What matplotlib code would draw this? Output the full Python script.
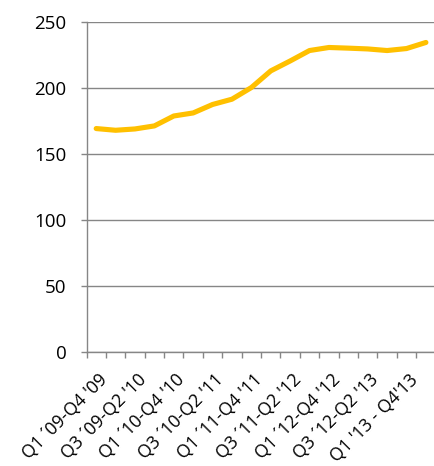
import matplotlib
matplotlib.use("Agg")
import matplotlib.pyplot as plt
import matplotlib.transforms as mtransforms
import numpy as np

# Data
categories = [
    "Q1 ´09-Q4 '09", "Q2 ´09-Q1 '10", "Q3 ´09-Q2 '10", "Q4 ´09-Q3 '10",
    "Q1 ´10-Q4 '10", "Q2 ´10-Q1 '11", "Q3 ´10-Q2 '11", "Q4 ´10-Q3 '11",
    "Q1 ´11-Q4 '11", "Q2 ´11-Q1 '12", "Q3 ´11-Q2 '12", "Q4 ´11-Q3 '12",
    "Q1 ´12-Q4 '12", "Q2 ´12-Q1 '13", "Q3 ´12-Q2 '13", "Q4 ´12-Q3 '13",
    "Q1 '13 - Q4'13", "Q2 '13 - Q1'14",
]
values = [169.2, 167.9, 168.9, 171.2, 178.7, 181.0, 187.4, 191.4, 200.2,
          212.8, 220.3, 228.2, 230.5, 230.0, 229.4, 228.2, 229.7, 234.3]
y_ticks = [0, 50, 100, 150, 200, 250]

plt.rcParams['font.family'] = ['Open Sans', 'DejaVu Sans']

W, H = 434, 466
fig = plt.figure(figsize=(W / 100, H / 100), dpi=100)
left, right = 86.5, 435.6
top, bottom = 21.7, 352.3
ax = fig.add_axes([left / W, (H - bottom) / H, (right - left) / W, (bottom - top) / H])

gray = '#868686'
x = np.arange(len(values))
ax.plot(x, values, color='#FFC000', lw=3.7, solid_capstyle='round',
        solid_joinstyle='round', zorder=3)

ax.set_xlim(-0.5, len(values) - 0.5)
ax.set_ylim(0, 250)
ax.set_yticks(y_ticks)
ax.set_yticklabels([str(v) for v in y_ticks], fontsize=13.5, color='black')
ax.yaxis.grid(True, color=gray, lw=1.0)
ax.set_axisbelow(True)

for s in ['top', 'right']:
    ax.spines[s].set_visible(False)
for s in ['left', 'bottom']:
    ax.spines[s].set_color(gray)
    ax.spines[s].set_linewidth(1.0)

ax.tick_params(axis='y', length=4.5, width=1.0, color=gray, pad=10)

# category boundary ticks
ax.set_xticks(np.arange(-0.5, len(values) - 0.5, 1.0), minor=True)
ax.tick_params(axis='x', which='minor', length=4.5, width=1.0, color=gray)
label_idx = list(range(0, len(values), 2))
ax.set_xticks(label_idx)
ax.set_xticklabels([categories[i] for i in label_idx], fontsize=12.8,
                   rotation=45, ha='right', va='top', rotation_mode='anchor')
ax.tick_params(axis='x', which='major', length=0, pad=13.5)
offset = mtransforms.ScaledTranslation(2 / 100, 0, fig.dpi_scale_trans)
for lbl in ax.get_xticklabels():
    lbl.set_transform(lbl.get_transform() + offset)

fig.savefig('out.png', dpi=100)
